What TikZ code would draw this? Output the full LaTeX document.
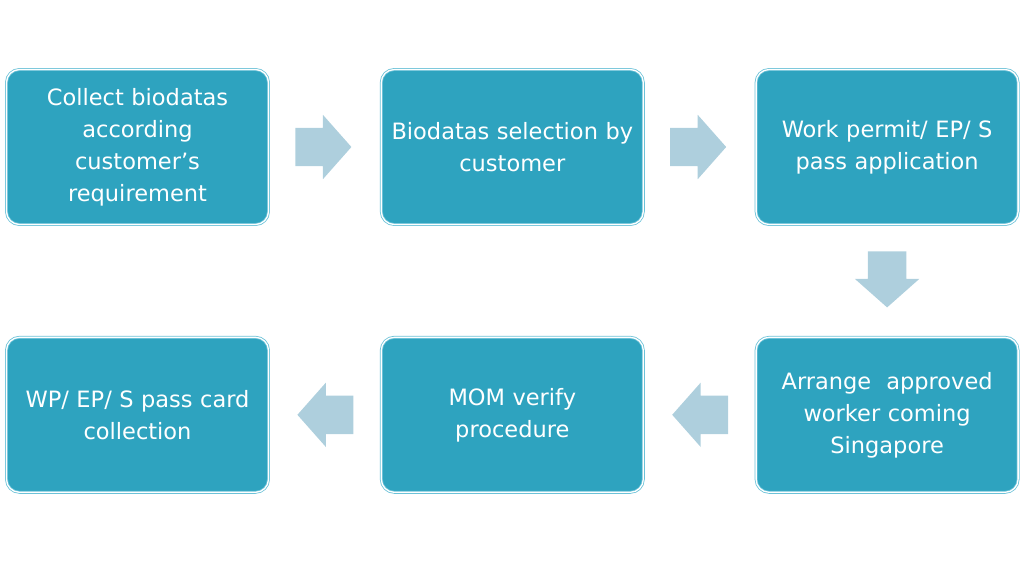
\documentclass[tikz,border=0pt]{standalone}
\usepackage{fontspec}
\setmainfont{DejaVu Sans}
\usetikzlibrary{shapes.arrows,positioning,calc}
\definecolor{boxfill}{HTML}{2EA3BF}
\definecolor{boxline}{HTML}{6CC2D8}
\definecolor{arrowfill}{HTML}{AECFDD}

\begin{document}
\begin{tikzpicture}[x=1pt, y=-1pt,
    stage/.style={rectangle, rounded corners=13pt, draw=boxline, double=white, double distance=1.3pt, line width=0.8pt, fill=boxfill, text=white, text width=252pt, align=center, minimum width=262pt, minimum height=155pt, inner sep=0pt, font=\fontsize{22.5}{32}\selectfont},
    flow/.style={single arrow, fill=arrowfill, draw=none, minimum width=64pt, minimum height=56pt, single arrow head extend=13pt, single arrow tip angle=97, inner xsep=0pt, inner ysep=19pt},
    flow down/.style={flow, shape border rotate=270, inner xsep=19pt, inner ysep=0pt}
]
\useasboundingbox (0,0) rectangle (1024,560);

\node[stage] (collect) at (137.5,147) {Collect biodatas\\according\\customer’s\\requirement};
\node[stage, right=112pt of collect] (select) {Biodatas selection by\\customer};
\node[stage, right=112pt of select] (permit) {Work permit/ EP/ S\\pass application};
\node[stage, below=112pt of permit] (arrange) {Arrange~ approved\\worker coming\\Singapore};
\node[stage, left=112pt of arrange] (verify) {MOM verify\\procedure};
\node[stage, left=112pt of verify] (card) {WP/ EP/ S pass card\\collection};

\node[flow, xshift=-10pt] (f1) at ($(collect.east)!0.5!(select.west)$) {};
\node[flow, xshift=-10pt] (f2) at ($(select.east)!0.5!(permit.west)$) {};
\node[flow down, yshift=10pt] (f3) at ($(permit.south)!0.5!(arrange.north)$) {};
\node[flow, shape border rotate=180, xshift=9pt] (f4) at ($(arrange.west)!0.5!(verify.east)$) {};
\node[flow, shape border rotate=180, xshift=9pt] (f5) at ($(verify.west)!0.5!(card.east)$) {};

\end{tikzpicture}
\end{document}
